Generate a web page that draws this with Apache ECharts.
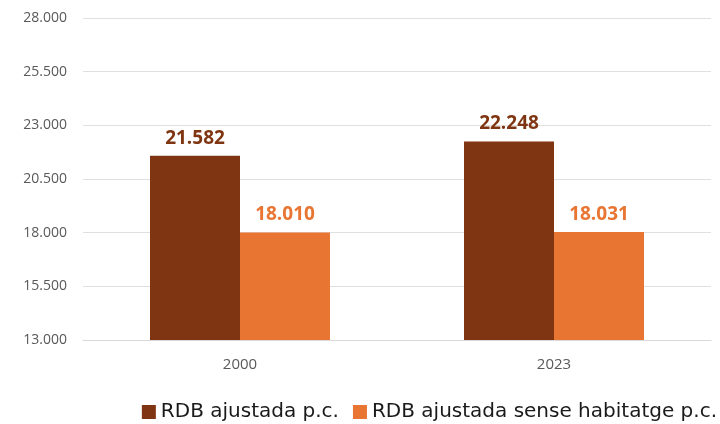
<!DOCTYPE html>
<html>
<head>
    <meta charset="utf-8">
    <title>RDB</title>
    <script src="https://cdn.jsdelivr.net/npm/echarts@6/dist/echarts.min.js"></script>
</head>
<body style="margin:0">
    <div id="main" style="height: 424px; width: 720px;"></div>
    <script type="text/javascript">
    var years = ['2000', '2023'];
    var rdbAjustada = [21582, 22248];
    var rdbSenseHabitatge = [18010, 18031];

    function fmt(v) {
        return String(v).replace(/\B(?=(\d{3})+(?!\d))/g, '.');
    }

    var myChart = echarts.init(document.getElementById('main'));
    var option = {
        textStyle: { fontFamily: 'Open Sans' },
        animation: false,
        grid: {
            left: 83,
            right: 9,
            top: 18,
            bottom: 84
        },
        legend: {
            bottom: -3,
            right: -2,
            itemWidth: 14,
            itemHeight: 14,
            itemGap: 14,
            icon: 'rect',
            textStyle: { fontSize: 20, color: '#1a1a1a', fontFamily: 'DejaVu Sans' },
            data: ['RDB ajustada p.c.', 'RDB ajustada sense habitatge p.c.']
        },
        xAxis: {
            type: 'category',
            data: years,
            axisTick: { show: false },
            axisLine: { lineStyle: { color: '#d9d9d9' } },
            axisLabel: { color: '#595959', fontSize: 15, margin: 17 }
        },
        yAxis: {
            type: 'value',
            min: 13000,
            max: 28000,
            interval: 2500,
            axisLabel: {
                color: '#595959',
                fontSize: 14,
                margin: 16,
                formatter: function (v) { return fmt(v); }
            },
            splitLine: { lineStyle: { color: '#e0e0e0' } }
        },
        series: [
            {
                name: 'RDB ajustada p.c.',
                type: 'bar',
                data: rdbAjustada,
                barWidth: 90,
                barGap: '0%',
                itemStyle: { color: '#7f3511' },
                label: {
                    show: true,
                    position: 'top',
                    distance: 8,
                    color: '#7f3511',
                    fontWeight: 'bold',
                    fontSize: 19,
                    formatter: function (p) { return fmt(p.value); }
                }
            },
            {
                name: 'RDB ajustada sense habitatge p.c.',
                type: 'bar',
                data: rdbSenseHabitatge,
                barWidth: 90,
                itemStyle: { color: '#e87532' },
                label: {
                    show: true,
                    position: 'top',
                    distance: 8,
                    color: '#e87532',
                    fontWeight: 'bold',
                    fontSize: 19,
                    formatter: function (p) { return fmt(p.value); }
                }
            }
        ]
    };
    myChart.setOption(option);
    </script>
</body>
</html>
